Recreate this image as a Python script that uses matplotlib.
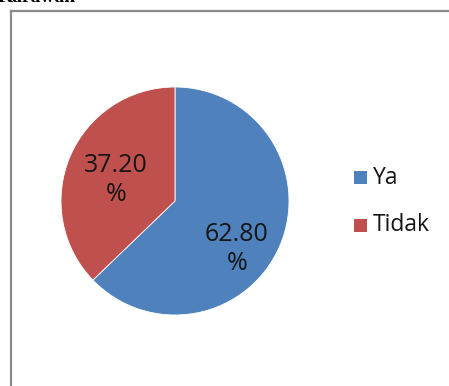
import matplotlib
matplotlib.use("Agg")
import matplotlib.pyplot as plt
from matplotlib.patches import Rectangle
from matplotlib.lines import Line2D

categories = ["Ya", "Tidak"]
values = [62.80, 37.20]
label_texts = ["62.80\n%", "37.20\n%"]
colors = ["#4F81BD", "#C0504D"]

W, H = 449, 386
fig = plt.figure(figsize=(W / 100, H / 100), dpi=100)
fig.patch.set_facecolor("white")

# frame (left and top borders, extends beyond right/bottom)
fig.add_artist(Line2D([11 / W, 11 / W], [0, 1 - 11 / H], color="#8a8a8a", lw=1.6,
                      transform=fig.transFigure))
fig.add_artist(Line2D([11 / W, 1], [1 - 11 / H, 1 - 11 / H], color="#8a8a8a", lw=1.6,
                      transform=fig.transFigure))

# cut-off heading text at top (only its lower edge shows in the reference)
fig.text(-2 / W, 1 - 1.5 / H, "Karawan", fontsize=14, fontweight="bold",
         family="Liberation Serif", va="baseline", ha="left", color="black")

# pie: center (175,201), radius ~114
r = 114
cx, cy = 175, 201
ax = fig.add_axes([(cx - r) / W, 1 - (cy + r) / H, 2 * r / W, 2 * r / H])
wedges, _ = ax.pie(values, colors=colors, startangle=90, counterclock=False,
                   wedgeprops=dict(linewidth=0.6, edgecolor="white"))
ax.set_aspect("equal")
ax.set_xlim(-1, 1)
ax.set_ylim(-1, 1)
ax.axis("off")

# data labels
label_pos = [(237, 249), (116, 180)]
for (px, py), t in zip(label_pos, label_texts):
    fig.text(px / W, 1 - py / H, t, ha="center", va="center", fontsize=18,
             family="Open Sans", color="#151515", linespacing=1.25)

# legend
leg_y = [178, 225]
for name, c, ly in zip(categories, colors, leg_y):
    fig.add_artist(Rectangle((354 / W, 1 - (ly + 6.5) / H), 13 / W, 13 / H,
                             facecolor=c, edgecolor="none", transform=fig.transFigure))
    fig.text(373 / W, 1 - ly / H, name, ha="left", va="center", fontsize=16.5,
             family="Open Sans", color="#151515")

fig.savefig("out.png", dpi=100)
